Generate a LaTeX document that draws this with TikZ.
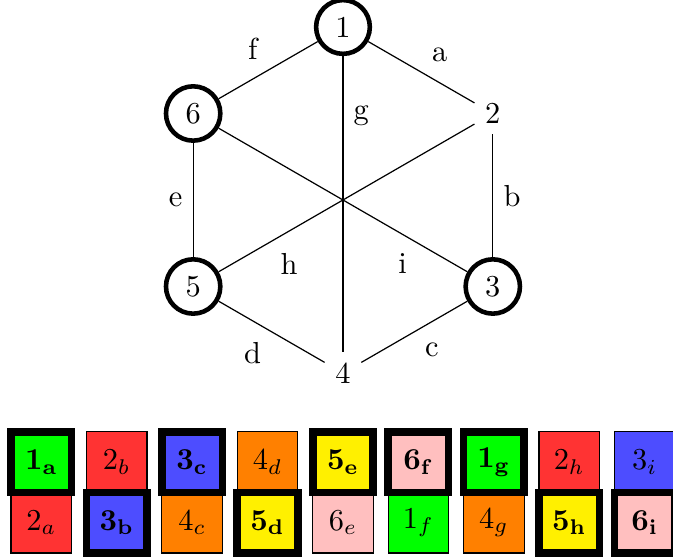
\documentclass[tikz,border=0pt]{standalone}
\usepackage{xcolor}
\usepackage{tikz}
\definecolor{tilegreen}{RGB}{0,255,0}
\definecolor{tilered}{RGB}{255,51,51}
\definecolor{tileblue}{RGB}{77,77,255}
\definecolor{tileorange}{RGB}{255,128,0}
\definecolor{tileyellow}{RGB}{255,240,0}
\definecolor{tilepink}{RGB}{255,191,191}

\begin{document}
\begin{tikzpicture}[
  vtx/.style={circle, draw, line width=1.5pt},
  tile/.style={rectangle, draw, minimum size=0.7cm, inner sep=0pt},
  hottile/.style={tile, line width=2.5pt}
]
\useasboundingbox (-3.965,-4.127) rectangle (3.815,2.312);

% hexagon
\node[vtx] (n1) at (90:2) {1};
\node (n2) at (30:2) {2};
\node[vtx] (n3) at (-30:2) {3};
\node (n4) at (-90:2) {4};
\node[vtx] (n5) at (210:2) {5};
\node[vtx] (n6) at (150:2) {6};

\draw (n1) -- (n2) node[midway, above right] {a};
\draw (n2) -- (n3) node[midway, right] {b};
\draw (n3) -- (n4) node[midway, below right] {c};
\draw (n4) -- (n5) node[midway, below left] {d};
\draw (n5) -- (n6) node[midway, left] {e};
\draw (n6) -- (n1) node[midway, above left] {f};
\draw (n1) -- (n4) node[pos=0.2, right] {g};
\draw (n5) -- (n2) node[pos=0.2, below right] {h};
\draw (n3) -- (n6) node[pos=0.2, below left] {i};

% tiles, thin ones first
\node[tile, fill=tilered] (t2) at (-2.616,-3.03) {$2_b$};
\node[tile, fill=tileorange] (t4) at (-0.872,-3.03) {$4_d$};
\node[tile, fill=tilered] (t8) at (2.616,-3.03) {$2_h$};
\node[tile, fill=tileblue] (t9) at (3.488,-3.03) {$3_i$};
\node[tile, fill=tilered] (b1) at (-3.488,-3.73) {$2_a$};
\node[tile, fill=tileorange] (b3) at (-1.744,-3.73) {$4_c$};
\node[tile, fill=tilepink] (b5) at (0,-3.73) {$6_e$};
\node[tile, fill=tilegreen] (b6) at (0.872,-3.73) {$1_f$};
\node[tile, fill=tileorange] (b7) at (1.744,-3.73) {$4_g$};

\node[hottile, fill=tilegreen] (t1) at (-3.488,-3.03) {$\mathbf{1_a}$};
\node[hottile, fill=tileblue] (t3) at (-1.744,-3.03) {$\mathbf{3_c}$};
\node[hottile, fill=tileyellow] (t5) at (0,-3.03) {$\mathbf{5_e}$};
\node[hottile, fill=tilepink] (t6) at (0.872,-3.03) {$\mathbf{6_f}$};
\node[hottile, fill=tilegreen] (t7) at (1.744,-3.03) {$\mathbf{1_g}$};
\node[hottile, fill=tileblue] (b2) at (-2.616,-3.73) {$\mathbf{3_b}$};
\node[hottile, fill=tileyellow] (b4) at (-0.872,-3.73) {$\mathbf{5_d}$};
\node[hottile, fill=tileyellow] (b8) at (2.616,-3.73) {$\mathbf{5_h}$};
\node[hottile, fill=tilepink] (b9) at (3.488,-3.73) {$\mathbf{6_i}$};
\end{tikzpicture}
\end{document}
